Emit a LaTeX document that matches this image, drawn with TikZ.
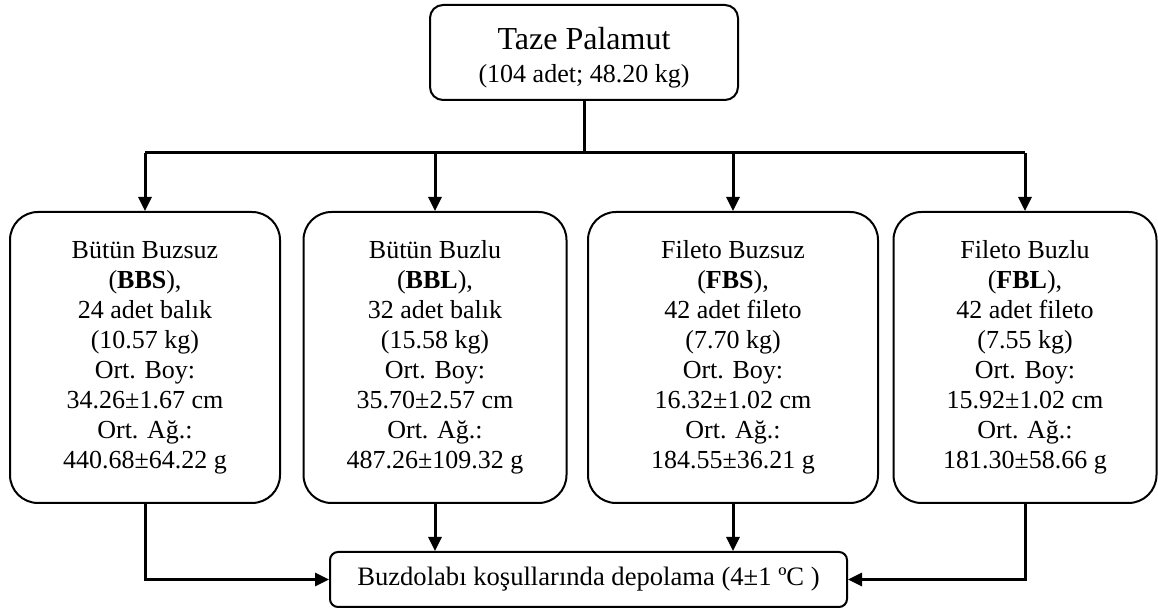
\documentclass[tikz,border=0pt]{standalone}
\usepackage{fontspec}
\setmainfont{Liberation Serif}
\usetikzlibrary{arrows.meta}

\tikzset{
	box/.style={draw, line width=1pt, rounded corners=14pt, align=center, inner sep=0pt,
		minimum height=145.5pt, font=\fontsize{13}{15}\selectfont},
	line/.style={line width=1.5pt},
	arrow/.style={line width=1.5pt, -{Triangle[length=7pt,width=6.5pt]}}
}

\begin{document}
\begin{tikzpicture}[x=0.5pt, y=-0.5pt]
			%%%%% START %%%%%
			\useasboundingbox (0, 0) rectangle (1158, 608);
			
			\node[draw, line width=1pt, rounded corners=6.5pt, align=center, inner sep=0pt,
				minimum width=154pt, minimum height=47.5pt, font=\fontsize{13}{16.5}\selectfont]
				(taze) at (584, 52.5)
				{{\fontsize{16}{16.5}\selectfont\rule{0pt}{16pt}Taze Palamut}\\(104 adet; 48.20 kg)};
			
			\node[box, minimum width=135pt] (bbs) at (145, 357.5)
				{Bütün Buzsuz\\(\textbf{BBS}),\\24 adet balık\\(10.57 kg)\\Ort. Boy:\\34.26±1.67 cm\\Ort. Ağ.:\\440.68±64.22 g};
			\node[box, minimum width=131.5pt] (bbl) at (435, 357.5)
				{Bütün Buzlu\\(\textbf{BBL}),\\32 adet balık\\(15.58 kg)\\Ort. Boy:\\35.70±2.57 cm\\Ort. Ağ.:\\487.26±109.32 g};
			\node[box, minimum width=145pt] (fbs) at (733, 357.5)
				{Fileto Buzsuz\\(\textbf{FBS}),\\42 adet fileto\\(7.70 kg)\\Ort. Boy:\\16.32±1.02 cm\\Ort. Ağ.:\\184.55±36.21 g};
			\node[box, minimum width=131.5pt] (fbl) at (1025, 357.5)
				{Fileto Buzlu\\(\textbf{FBL}),\\42 adet fileto\\(7.55 kg)\\Ort. Boy:\\15.92±1.02 cm\\Ort. Ağ.:\\181.30±58.66 g};
			
			\node[draw, line width=1pt, rounded corners=4pt, inner sep=0pt,
				minimum width=258.5pt, minimum height=27.5pt, font=\fontsize{13.3}{15}\selectfont]
				(depo) at (588.5, 579.5) {Buzdolabı koşullarında depolama (4±1 ºC )};
			
			% dagitim hatti
			\coordinate (kol) at (584, 153);
			\draw[line] (taze.south) -- (kol);
			\draw[line] (kol -| bbs.north) -- (kol -| fbl.north);
			\foreach \grup in {bbs, bbl, fbs, fbl}
				\draw[arrow] (kol -| \grup.north) -- (\grup.north);
			
			% depolamaya
			\draw[arrow] (bbs.south) |- (depo.west);
			\draw[arrow] (bbl.south) -- (bbl.south |- depo.north);
			\draw[arrow] (fbs.south) -- (fbs.south |- depo.north);
			\draw[arrow] (fbl.south) |- (depo.east);
			
			%%%%% END %%%%%
\end{tikzpicture}
\end{document}
